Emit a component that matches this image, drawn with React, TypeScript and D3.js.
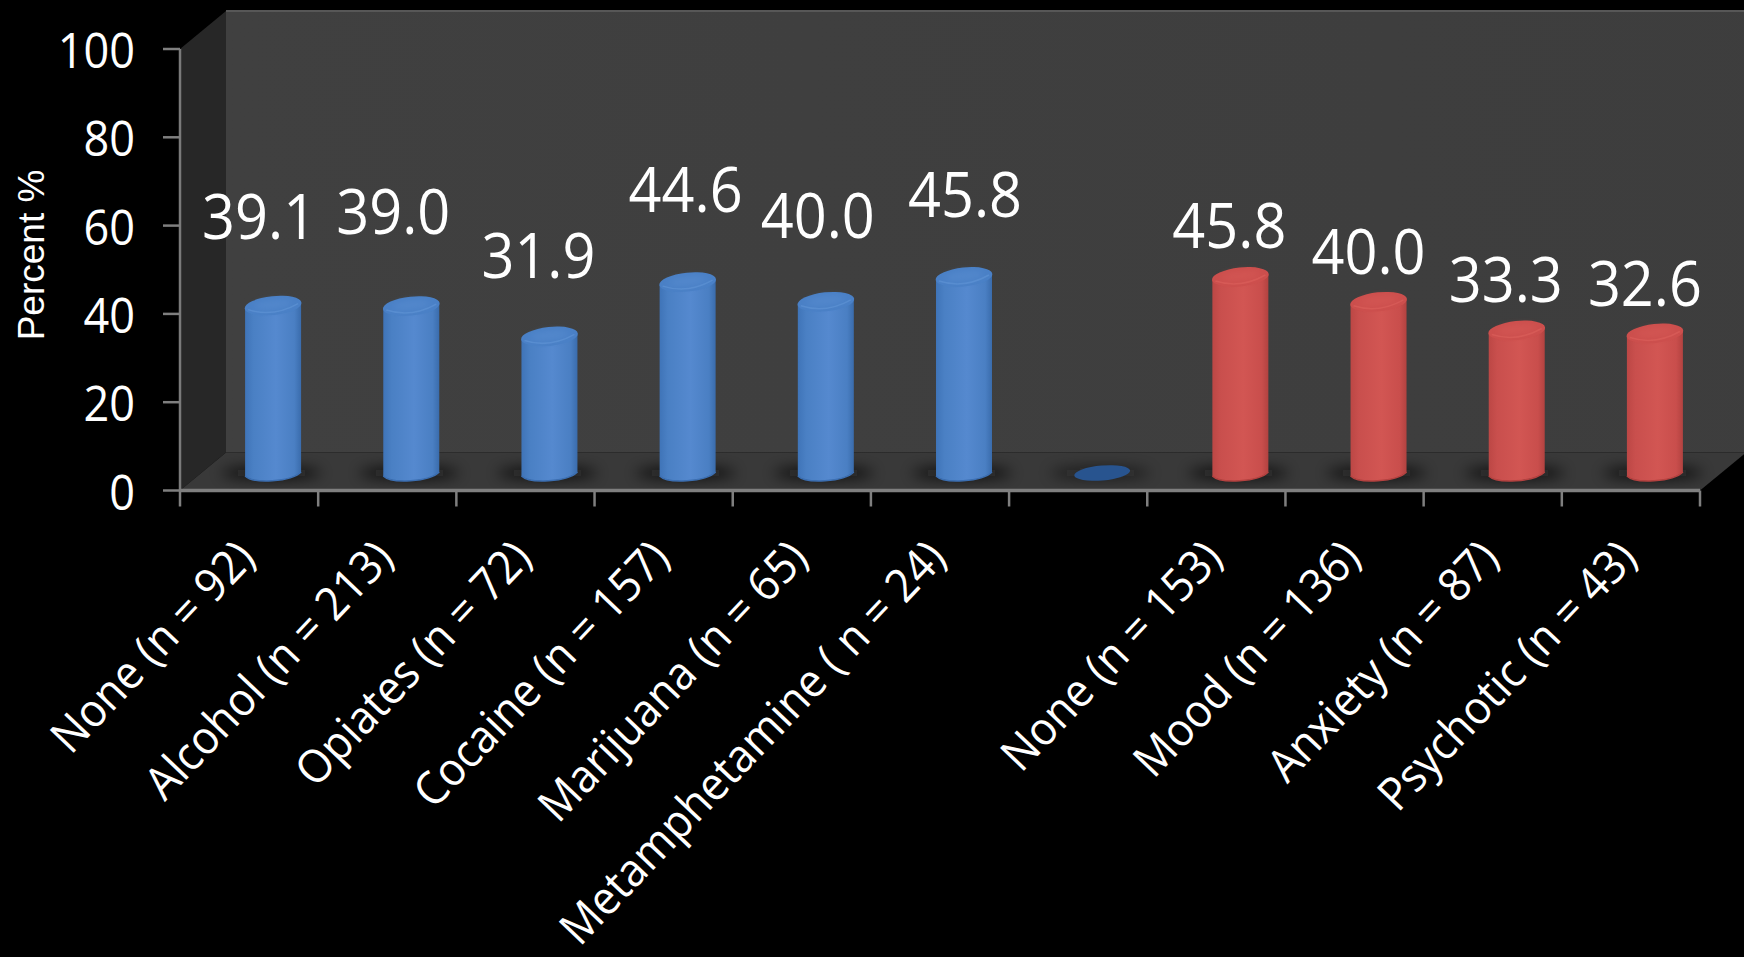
import React from "react";
import * as d3 from "d3";

// Percent of patients per subgroup; the empty slot separates substance use from psychiatric groups.
const categories = [
  "None (n = 92)",
  "Alcohol (n = 213)",
  "Opiates (n = 72)",
  "Cocaine (n = 157)",
  "Marijuana (n = 65)",
  "Metamphetamine ( n = 24)",
  "",
  "None (n = 153)",
  "Mood (n = 136)",
  "Anxiety (n = 87)",
  "Psychotic (n = 43)",
];
const values = [39.1, 39.0, 31.9, 44.6, 40.0, 45.8, 0, 45.8, 40.0, 33.3, 32.6];
const groups = ["b", "b", "b", "b", "b", "b", "b", "r", "r", "r", "r"];
const valueTicks = [0, 20, 40, 60, 80, 100];
const axisTitle = "Percent %";

// Hand placement of the value captions relative to each cylinder's top.
const captionNudgeX = [-14, -18, -11, -2, -8, 1, 0, -11, -10, -11, -10];
const captionNudgeY = [-67, -72, -58, -70, -64, -60, 0, -29, -28, -28, -27];

const WIDTH = 1744;
const HEIGHT = 957;
const LEFT = 180;
const RIGHT = 1700;
const FLOOR_FRONT = 490.5;
const TOP_FRONT = 49;
const DEPTH_X = 46;
const DEPTH_Y = 38;
const BASE_Y = 473;
const BAR_RX = 28;
const BAR_OFFSET = 24;

const x = d3.scaleBand<number>().domain(d3.range(categories.length)).range([LEFT, RIGHT]);
const yAxis = d3.scaleLinear().domain([0, 100]).range([FLOOR_FRONT, TOP_FRONT]);
const yBar = d3.scaleLinear().domain([0, 100]).range([BASE_Y, BASE_Y - 428]);

const sansFont = "'Open Sans', sans-serif";
const polygon = d3.line();

function Cylinder({ cx, value, kind }: { cx: number; value: number; kind: string }) {
  const top = yBar(value);
  const gradient = kind === "b" ? "url(#blueBody)" : "url(#redBody)";
  const cap = kind === "b" ? "#4a80c6" : "#cc4f4d";
  const capHi = kind === "b" ? "#5b90d2" : "#d85c59";
  const rim = kind === "b" ? "#3c6fb2" : "#b54240";
  const body = d3.path();
  body.moveTo(cx - BAR_RX, top + 3);
  body.lineTo(cx - BAR_RX, BASE_Y + 3);
  body.bezierCurveTo(cx - BAR_RX + 8, BASE_Y + 11, cx + BAR_RX - 10, BASE_Y + 9, cx + BAR_RX, BASE_Y - 1);
  body.lineTo(cx + BAR_RX, top - 3);
  body.closePath();
  return (
    <g>
      <path d={body.toString()} fill={gradient} />
      <path
        d={`M${cx - BAR_RX},${BASE_Y + 3} C${cx - BAR_RX + 8},${BASE_Y + 11} ${cx + BAR_RX - 10},${BASE_Y + 9} ${cx + BAR_RX},${BASE_Y - 1}`}
        fill="none"
        stroke={rim}
        strokeWidth={1.5}
      />
      <ellipse cx={cx} cy={top} rx={BAR_RX + 0.5} ry={9.5} fill={cap} transform={`rotate(-6 ${cx} ${top})`} />
      <path
        d={`M${cx - BAR_RX + 3},${top + 4} Q${cx},${top + 12} ${cx + BAR_RX - 3},${top - 2}`}
        fill="none"
        stroke={capHi}
        strokeWidth={1.5}
        opacity={0.8}
      />
      <ellipse cx={cx} cy={top - 1} rx={BAR_RX - 9} ry={4.5} fill={capHi} opacity={0.5} transform={`rotate(-6 ${cx} ${top})`} filter="url(#soft)" />
    </g>
  );
}

export default function App() {
  const band = x.bandwidth();
  const edges = d3.range(categories.length + 1).map((i) => LEFT + i * band);
  const centre = (i: number) => (x(i) as number) + band / 2;

  return (
    <svg
      width={WIDTH}
      height={HEIGHT}
      viewBox={`0 0 ${WIDTH} ${HEIGHT}`}
      style={{ position: "fixed", left: 0, top: 0, background: "#000", display: "block" }}
    >
      <defs>
        <linearGradient id="blueBody" x1="0" x2="1" y1="0" y2="0">
          <stop offset="0" stopColor="#3f74b8" />
          <stop offset="0.15" stopColor="#4a80c4" />
          <stop offset="0.55" stopColor="#5589cf" />
          <stop offset="0.88" stopColor="#4a7fc3" />
          <stop offset="1" stopColor="#3a6cac" />
        </linearGradient>
        <linearGradient id="redBody" x1="0" x2="1" y1="0" y2="0">
          <stop offset="0" stopColor="#bc4745" />
          <stop offset="0.15" stopColor="#c94f4d" />
          <stop offset="0.55" stopColor="#d25653" />
          <stop offset="0.88" stopColor="#c94e4c" />
          <stop offset="1" stopColor="#b24240" />
        </linearGradient>
        <linearGradient id="wallShade" x1="0" x2="1" y1="0" y2="0">
          <stop offset="0" stopColor="#404040" />
          <stop offset="1" stopColor="#3d3d3d" />
        </linearGradient>
        <filter id="soft" x="-40%" y="-80%" width="180%" height="260%">
          <feGaussianBlur stdDeviation="3" />
        </filter>
        <filter id="contact" x="-40%" y="-160%" width="180%" height="420%">
          <feGaussianBlur stdDeviation="7" />
        </filter>
      </defs>

      {/* back wall */}
      <rect x={LEFT + DEPTH_X} y={TOP_FRONT - DEPTH_Y} width={WIDTH} height={FLOOR_FRONT - TOP_FRONT} fill="url(#wallShade)" />
      <line x1={LEFT + DEPTH_X} x2={WIDTH} y1={TOP_FRONT - DEPTH_Y} y2={TOP_FRONT - DEPTH_Y} stroke="#575757" strokeWidth={2} />

      {/* side wall */}
      <path
        d={polygon([
          [LEFT, TOP_FRONT],
          [LEFT + DEPTH_X, TOP_FRONT - DEPTH_Y],
          [LEFT + DEPTH_X, FLOOR_FRONT - DEPTH_Y],
          [LEFT, FLOOR_FRONT],
        ]) + "Z"}
        fill="#272727"
      />

      {/* floor */}
      <path
        d={polygon([
          [LEFT, FLOOR_FRONT],
          [LEFT + DEPTH_X, FLOOR_FRONT - DEPTH_Y],
          [RIGHT + DEPTH_X, FLOOR_FRONT - DEPTH_Y],
          [RIGHT, FLOOR_FRONT],
        ]) + "Z"}
        fill="#393939"
      />

      {/* contact shadows on the floor */}
      {values.map((_, i) => (
        <ellipse
          key={`shadow-${i}`}
          cx={centre(i) + BAR_OFFSET - 2}
          cy={BASE_Y}
          rx={BAR_RX + 22}
          ry={6}
          fill="#101010"
          opacity={values[i] === 0 ? 0.55 : 0.8}
          filter="url(#contact)"
        />
      ))}

      {/* axes */}
      <line x1={LEFT} x2={LEFT} y1={TOP_FRONT} y2={FLOOR_FRONT} stroke="#7a7a7a" strokeWidth={2.5} />
      <line x1={LEFT} x2={RIGHT} y1={FLOOR_FRONT} y2={FLOOR_FRONT} stroke="#7f7f7f" strokeWidth={3.5} />
      {valueTicks.map((t) => (
        <g key={t}>
          <line x1={LEFT - 17} x2={LEFT} y1={yAxis(t)} y2={yAxis(t)} stroke="#7f7f7f" strokeWidth={2.5} />
          <text
            transform={`translate(${LEFT - 45},${yAxis(t) + 19}) scale(0.92,1)`}
            textAnchor="end"
            fill="#fff"
            fontFamily={sansFont}
            fontSize={49}
          >
            {t}
          </text>
        </g>
      ))}
      {edges.map((e, i) => (
        <line key={i} x1={e} x2={e} y1={FLOOR_FRONT} y2={FLOOR_FRONT + 16} stroke="#7f7f7f" strokeWidth={2.5} />
      ))}

      {/* cylinders */}
      {values.map((v, i) =>
        v === 0 ? (
          <ellipse
            key={i}
            cx={centre(i) + BAR_OFFSET}
            cy={yBar(0)}
            rx={BAR_RX}
            ry={7.5}
            fill="#28548f"
            transform={`rotate(-5 ${centre(i) + BAR_OFFSET} ${yBar(0)})`}
          />
        ) : (
          <Cylinder key={i} cx={centre(i) + BAR_OFFSET} value={v} kind={groups[i]} />
        )
      )}

      {/* value captions */}
      {values.map((v, i) =>
        v === 0 ? null : (
          <text
            key={`cap-${i}`}
            transform={`translate(${centre(i) + BAR_OFFSET + captionNudgeX[i]},${yBar(v) + captionNudgeY[i]}) scale(0.93,1)`}
            textAnchor="middle"
            fill="#fff"
            fontFamily={sansFont}
            fontSize={62}
          >
            {v.toFixed(1)}
          </text>
        )
      )}

      {/* category labels */}
      {categories.map((c, i) =>
        c ? (
          <text
            key={`cat-${i}`}
            transform={`translate(${centre(i) + 8},${FLOOR_FRONT + 69}) rotate(-46.5) scale(0.945,1)`}
            textAnchor="end"
            fill="#fff"
            fontFamily={sansFont}
            fontSize={46}
          >
            {c}
          </text>
        ) : null
      )}

      {/* axis title */}
      <text
        transform={`translate(44,255) rotate(-90)`}
        textAnchor="middle"
        fill="#fff"
        fontFamily="'Liberation Sans', Arial, sans-serif"
        fontSize={37}
      >
        {axisTitle}
      </text>
    </svg>
  );
}
